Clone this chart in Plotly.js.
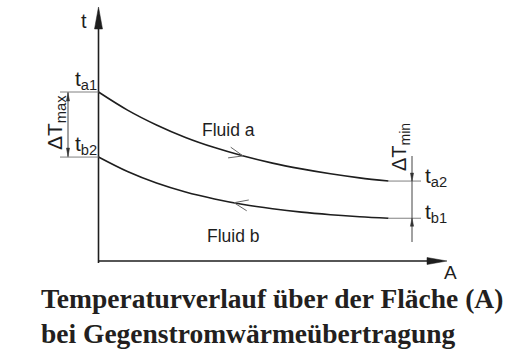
<!DOCTYPE html>
<html>
<head>
<meta charset="utf-8">
<script src="https://cdn.plot.ly/plotly-3.0.1.min.js"></script>
<style>html,body{margin:0;padding:0;background:#fff}#chart{width:510px;height:360px}</style>
</head>
<body>
<div id="chart"></div>
<script>
// Data: area A (normalised) vs temperature t
const areaA = [0, 0.1, 0.2, 0.3, 0.4, 0.5, 0.6, 0.7, 0.8, 0.9, 1.0];
const fluidA = [100, 89.3, 80.5, 73.1, 67.1, 62.1, 57.9, 54.5, 51.6, 49.2, 47.3];
const fluidB = [61.5, 52.9, 46.1, 40.8, 36.7, 33.4, 30.9, 28.9, 27.4, 26.2, 25.3];
const seriesNames = ['Fluid a', 'Fluid b'];
const endLabelsLeft = ['t<sub>a1</sub>', 't<sub>b2</sub>'];
const endLabelsRight = ['t<sub>a2</sub>', 't<sub>b1</sub>'];
const deltaLabels = ['ΔT<sub>max</sub>', 'ΔT<sub>min</sub>'];
const axisLabels = ['A', 't'];
const titleLines = ['Temperaturverlauf über der Fläche (A)', 'bei Gegenstromwärmeübertragung'];

// pixel <-> data helpers (layout geometry)
const W = 510, H = 360;
const X0 = 98.5, SX = 290, Y0 = 261, SY = 1.69;
const pxA = p => (p - X0) / SX;
const pxT = p => (Y0 - p) / SY;
const aPx = a => X0 + a * SX;
const tPx = t => Y0 - t * SY;

const dark = '#1e1e1e', gray = '#808080';
const sans = 'Liberation Sans, Arial, sans-serif';

const traces = [
  {x: areaA, y: fluidA, name: seriesNames[0], mode: 'lines', line: {color: dark, width: 1.6, shape: 'spline'}, hoverinfo: 'skip'},
  {x: areaA, y: fluidB, name: seriesNames[1], mode: 'lines', line: {color: dark, width: 1.6, shape: 'spline'}, hoverinfo: 'skip'}
];

function interp(xs, ys, x) {
  for (let i = 0; i < xs.length - 1; i++) {
    if (x >= xs[i] && x <= xs[i + 1]) {
      const f = (x - xs[i]) / (xs[i + 1] - xs[i]);
      return ys[i] + f * (ys[i + 1] - ys[i]);
    }
  }
  return ys[ys.length - 1];
}
function pathPx(pts, close) {
  return pts.map((p, i) => (i ? 'L' : 'M') + pxA(p[0]) + ',' + pxT(p[1])).join(' ') + (close ? ' Z' : '');
}
// chevron along a curve, pointing in direction dir (+1 right, -1 left)
function chevron(ys, a, dir) {
  const x = aPx(a), y = tPx(interp(areaA, ys, a));
  const y2 = tPx(interp(areaA, ys, a + 0.03)), x2 = aPx(a + 0.03);
  let dx = x2 - x, dy = y2 - y; const n = Math.hypot(dx, dy); dx /= n; dy /= n;
  dx *= dir; dy *= dir;
  const px = -dy, py = dx;
  const L = 14, w = 5.5;
  return pathPx([[x - L * dx + w * px, y - L * dy + w * py], [x, y], [x - L * dx - w * px, y - L * dy - w * py]], false);
}
function arrowHead(x, tipY, dir, len, hw) { // vertical arrowhead; dir=-1 points up, +1 points down (pixels)
  return pathPx([[x - hw, tipY - dir * len], [x, tipY], [x + hw, tipY - dir * len]], true);
}

const thin = {color: gray, width: 1};
const shapes = [
  // axes
  {type: 'line', xref: 'x', yref: 'y', x0: 0, x1: 0, y0: pxT(263), y1: pxT(28), line: {color: dark, width: 1.6}},
  {type: 'path', xref: 'x', yref: 'y', path: pathPx([[94.5, 29], [98.5, 7], [102.5, 29]], true), fillcolor: dark, line: {color: dark, width: 0.5}},
  {type: 'line', xref: 'x', yref: 'y', x0: 0, x1: pxA(430), y0: 0, y1: 0, line: {color: dark, width: 1.6}},
  {type: 'path', xref: 'x', yref: 'y', path: pathPx([[427, 257.5], [447, 261], [427, 264.5]], true), fillcolor: dark, line: {color: dark, width: 0.5}},
  // extension lines
  {type: 'line', xref: 'x', yref: 'y', x0: pxA(60), x1: 0, y0: fluidA[0], y1: fluidA[0], line: thin},
  {type: 'line', xref: 'x', yref: 'y', x0: pxA(60), x1: 0, y0: fluidB[0], y1: fluidB[0], line: thin},
  {type: 'line', xref: 'x', yref: 'y', x0: 1, x1: pxA(421), y0: fluidA[10], y1: fluidA[10], line: thin},
  {type: 'line', xref: 'x', yref: 'y', x0: 1, x1: pxA(421), y0: fluidB[10], y1: fluidB[10], line: thin},
  // delta T max dimension
  {type: 'line', xref: 'x', yref: 'y', x0: pxA(68), x1: pxA(68), y0: fluidA[0], y1: fluidB[0], line: {color: '#444', width: 1}},
  {type: 'path', xref: 'x', yref: 'y', path: arrowHead(68, tPx(fluidA[0]) + 1, -1, 8, 1.6), fillcolor: '#333', line: {color: '#333', width: 0.5}},
  {type: 'path', xref: 'x', yref: 'y', path: arrowHead(68, tPx(fluidB[0]) - 1, 1, 8, 1.6), fillcolor: '#333', line: {color: '#333', width: 0.5}},
  // delta T min dimension
  {type: 'line', xref: 'x', yref: 'y', x0: pxA(412), x1: pxA(412), y0: pxT(156), y1: pxT(242), line: {color: '#444', width: 1}},
  {type: 'path', xref: 'x', yref: 'y', path: arrowHead(412, tPx(fluidA[10]), 1, 8, 1.6), fillcolor: '#333', line: {color: '#333', width: 0.5}},
  {type: 'path', xref: 'x', yref: 'y', path: arrowHead(412, tPx(fluidB[10]), -1, 8, 1.6), fillcolor: '#333', line: {color: '#333', width: 0.5}},
  // flow direction chevrons
  {type: 'path', xref: 'x', yref: 'y', path: chevron(fluidA, pxA(243), 1), line: {color: '#666', width: 1}},
  {type: 'path', xref: 'x', yref: 'y', path: chevron(fluidB, pxA(234), -1), line: {color: '#666', width: 1}}
];

function ann(text, xpx, ypx, size, opts) {
  return Object.assign({text: text, xref: 'x', yref: 'y', x: pxA(xpx), y: pxT(ypx), showarrow: false,
    font: {family: sans, size: size, color: dark}, xanchor: 'center', yanchor: 'middle', borderpad: 0}, opts || {});
}
const annotations = [
  ann(axisLabels[1], 83.5, 21, 20),
  ann(axisLabels[0], 450, 272, 19),
  ann(endLabelsLeft[0], 98, 80, 21, {xanchor: 'right'}),
  ann(endLabelsLeft[1], 98, 145, 21, {xanchor: 'right'}),
  ann(endLabelsRight[0], 424, 177, 21, {xanchor: 'left'}),
  ann(endLabelsRight[1], 424, 213, 21, {xanchor: 'left'}),
  ann(deltaLabels[0], 56, 123, 21, {textangle: -90}),
  ann(deltaLabels[1], 400, 147, 20, {textangle: -90}),
  ann(seriesNames[0], 228.5, 130, 17.5),
  ann(seriesNames[1], 233.5, 236, 17.5),
  {text: '<b>' + titleLines[0] + '</b>', xref: 'paper', yref: 'paper', x: 39 / W, y: 1 - 298 / H, xanchor: 'left', yanchor: 'middle', showarrow: false,
    font: {family: 'Liberation Serif, serif', size: 27.5, color: '#231f20'}},
  {text: '<b>' + titleLines[1] + '</b>', xref: 'paper', yref: 'paper', x: 39 / W, y: 1 - 333 / H, xanchor: 'left', yanchor: 'middle', showarrow: false,
    font: {family: 'Liberation Serif, serif', size: 27.5, color: '#231f20'}}
];

const hiddenAxis = {visible: false, showgrid: false, zeroline: false, fixedrange: true};
const layout = {
  width: W, height: H, margin: {l: 0, r: 0, t: 0, b: 0},
  paper_bgcolor: '#fff', plot_bgcolor: '#fff', showlegend: false,
  xaxis: Object.assign({range: [pxA(0), pxA(W)]}, hiddenAxis),
  yaxis: Object.assign({range: [pxT(H), pxT(0)]}, hiddenAxis),
  shapes: shapes, annotations: annotations
};
Plotly.newPlot('chart', traces, layout, {displayModeBar: false});
</script>
</body>
</html>
